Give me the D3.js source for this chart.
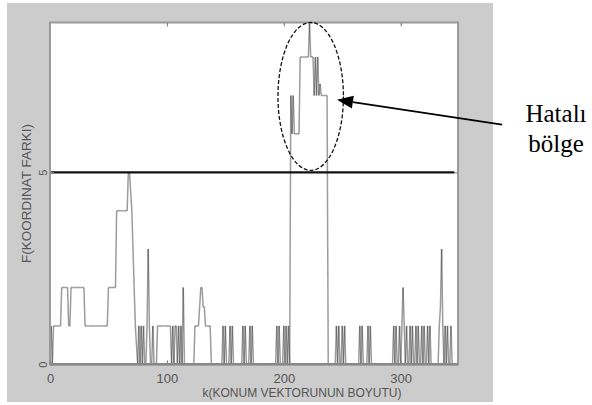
<!DOCTYPE html>
<html>
<head>
<meta charset="utf-8">
<script src="https://cdn.jsdelivr.net/npm/d3@7"></script>
<style>
    html, body { margin: 0; padding: 0; background: #fff; }
    svg { display: block; }
</style>
</head>
<body>
<svg id="chart" width="592" height="405"></svg>
<script>
// F value for every k (0..349), 25 samples per row
const fValues = [
    0, 1, 0, 1, 1, 1, 1, 1, 1, 1, 2, 2, 2, 2, 2, 2, 1, 1, 2, 2, 2, 2, 2, 2, 2,
    2, 2, 2, 2, 2, 1, 1, 1, 1, 1, 1, 1, 1, 1, 1, 1, 1, 1, 1, 1, 1, 1, 1, 1, 1,
    2, 2, 2, 2, 2, 2, 2, 4, 4, 4, 4, 4, 4, 4, 4, 4, 4, 5, 5, 4.5, 4, 3, 2, 1, 0.5,
    0, 1, 0, 1, 0, 1, 0, 0, 1, 3, 1, 0, 0, 1, 0, 0, 0, 1, 1, 1, 1, 1, 1, 1, 1,
    1, 1, 1, 1, 0, 1, 0, 1, 1, 0, 1, 0, 1, 0, 2, 0, 0, 0, 0, 0, 0, 0, 0, 0, 1,
    1, 1, 1, 1.5, 2, 2, 1.5, 1.5, 1, 1, 1, 1, 1, 0, 0, 0, 0, 0, 0, 0, 0, 0, 0, 1, 0,
    1, 0, 0, 0, 1, 0, 1, 0, 0, 0, 0, 0, 0, 0, 0, 1, 0, 1, 0, 0, 0, 1, 0, 1, 0,
    0, 0, 0, 0, 0, 0, 0, 0, 0, 0, 0, 0, 0, 0, 0, 0, 0, 0, 0, 1, 0, 1, 0, 0, 0,
    1, 0, 1, 0, 1, 0, 7, 6, 7, 6, 6, 6, 6, 6, 8, 8, 8, 8, 8, 8, 8, 8, 8.9, 8, 8,
    8, 7, 8, 7, 8, 7, 7.3, 7, 7, 7, 7, 7, 7, 0, 0, 0, 0, 0, 0, 0, 1, 0, 1, 0, 0,
    1, 0, 1, 0, 0, 0, 0, 0, 0, 0, 0, 0, 0, 0, 0, 1, 0, 1, 0, 0, 0, 0, 1, 0, 1,
    0, 0, 0, 0, 0, 0, 0, 0, 0, 0, 0, 0, 0, 0, 0, 0, 0, 0, 0, 1, 0, 1, 0, 0, 1,
    0, 1, 2, 1, 0, 1, 0, 0, 1, 0, 1, 0, 0, 1, 0, 1, 0, 0, 1, 0, 1, 0, 0, 1, 0,
    1, 0, 0, 0, 0, 0, 0, 0, 1, 1.5, 3, 1, 0, 1, 0, 1, 0, 0, 1, 0, 0, 0, 0, 0, 0
];

const xTicks = [0, 100, 200, 300];
const yTicks = [0, 5];
const yMax = 8.9;
const threshold = 5;
const xLabel = 'k(KONUM VEKTORUNUN BOYUTU)';
const yLabel = 'F(KOORDINAT FARKI)';

// annotation: ellipse round the faulty part, arrow and note (data units)
const faultK = [195, 251];
const faultF = [5.05, 8.9];
const arrowFrom = [386.7, 6.24];
const arrowTo = [245.5, 6.89];
const noteLines = ['Hatalı', 'bölge'];

let svg = d3.select('#chart');

let plot = { left: 50, right: 458, top: 22.5, bottom: 364.3 };

let x = d3.scaleLinear().domain([0, fValues.length - 1]).range([plot.left, plot.right]);
let y = d3.scaleLinear().domain([0, yMax]).range([plot.bottom, plot.top]);

// gray figure panel and white axes area
svg.append('rect')
    .attr('x', 7).attr('y', 3)
    .attr('width', 486).attr('height', 399)
    .attr('fill', '#cccccc');

svg.append('rect')
    .attr('x', plot.left).attr('y', plot.top)
    .attr('width', plot.right - plot.left).attr('height', plot.bottom - plot.top)
    .attr('fill', '#ffffff');

// the trace, drawn as separate segments so overlaps get darker like the scan
let points = fValues.map((v, i) => [i, v]);
svg.append('g')
    .attr('id', 'trace-g')
    .selectAll('line')
    .data(d3.pairs(points))
    .join('line')
    .attr('x1', d => x(d[0][0]))
    .attr('y1', d => y(d[0][1]))
    .attr('x2', d => x(d[1][0]))
    .attr('y2', d => y(d[1][1]))
    .attr('stroke', '#3a3a3a')
    .attr('stroke-opacity', 0.5)
    .attr('stroke-width', 1.5);

// threshold line
svg.append('line')
    .attr('x1', x(0)).attr('x2', x(346))
    .attr('y1', y(threshold)).attr('y2', y(threshold))
    .attr('stroke', '#111')
    .attr('stroke-width', 2.2);

// axes box
svg.append('rect')
    .attr('x', plot.left).attr('y', plot.top)
    .attr('width', plot.right - plot.left).attr('height', plot.bottom - plot.top)
    .attr('fill', 'none')
    .attr('stroke', '#9a9a9a')
    .attr('stroke-width', 2);

svg.append('line')
    .attr('x1', plot.left).attr('x2', plot.right)
    .attr('y1', plot.bottom).attr('y2', plot.bottom)
    .attr('stroke', '#888')
    .attr('stroke-width', 2.4);

function styleAxis(g) {
    g.select('.domain').remove();
    g.selectAll('.tick line').attr('stroke', '#8a8a8a').attr('stroke-width', 1.2);
    g.selectAll('.tick text')
        .attr('fill', '#555')
        .style('font-family', '"Liberation Sans", Arial, sans-serif');
}

svg.append('g')
    .attr('transform', `translate(0,${plot.bottom})`)
    .call(d3.axisBottom(x).tickValues(xTicks).tickSizeInner(-4).tickSizeOuter(0).tickPadding(9))
    .call(styleAxis)
    .selectAll('.tick text').style('font-size', '13px');

svg.append('g')
    .attr('transform', `translate(0,${plot.top})`)
    .call(d3.axisTop(x).tickValues(xTicks.slice(1)).tickSizeInner(-4).tickSizeOuter(0).tickFormat(''))
    .call(styleAxis);

let yAxisG = svg.append('g')
    .attr('transform', `translate(${plot.left},0)`)
    .call(d3.axisLeft(y).tickValues(yTicks).tickSizeInner(-4).tickSizeOuter(0))
    .call(styleAxis);

// matlab-ish rotated y tick labels
yAxisG.selectAll('.tick text')
    .attr('x', 0)
    .attr('dy', 0)
    .attr('text-anchor', 'middle')
    .attr('transform', 'translate(-3.5,0) rotate(-90)')
    .style('font-size', '11px');

svg.append('g')
    .attr('transform', `translate(${plot.right},0)`)
    .call(d3.axisRight(y).tickValues(yTicks.slice(1)).tickSizeInner(-4).tickSizeOuter(0).tickFormat(''))
    .call(styleAxis);

// axis labels
svg.append('text')
    .attr('x', (plot.left + plot.right) / 2 + 48)
    .attr('y', 397)
    .attr('text-anchor', 'middle')
    .attr('textLength', 199)
    .attr('lengthAdjust', 'spacingAndGlyphs')
    .attr('fill', '#555')
    .style('font-family', '"Liberation Sans", Arial, sans-serif')
    .style('font-size', '13px')
    .text(xLabel);

svg.append('text')
    .attr('transform', `translate(31,${(plot.top + plot.bottom) / 2}) rotate(-90)`)
    .attr('text-anchor', 'middle')
    .attr('textLength', 139)
    .attr('lengthAdjust', 'spacingAndGlyphs')
    .attr('fill', '#555')
    .style('font-family', '"Liberation Sans", Arial, sans-serif')
    .style('font-size', '12px')
    .text(yLabel);

// dashed ellipse round the faulty region
svg.append('ellipse')
    .attr('cx', (x(faultK[0]) + x(faultK[1])) / 2)
    .attr('cy', (y(faultF[0]) + y(faultF[1])) / 2)
    .attr('rx', (x(faultK[1]) - x(faultK[0])) / 2)
    .attr('ry', (y(faultF[0]) - y(faultF[1])) / 2)
    .attr('fill', 'none')
    .attr('stroke', '#111')
    .attr('stroke-width', 1.3)
    .attr('stroke-dasharray', '4,2');

// arrow pointing to it
let tail = [x(arrowFrom[0]), y(arrowFrom[1])];
let tip = [x(arrowTo[0]), y(arrowTo[1])];
let angle = Math.atan2(tip[1] - tail[1], tip[0] - tail[0]);
let headLen = 16, headHalf = 6.5;
let base = [tip[0] - headLen * Math.cos(angle), tip[1] - headLen * Math.sin(angle)];

svg.append('line')
    .attr('x1', tail[0]).attr('y1', tail[1])
    .attr('x2', base[0]).attr('y2', base[1])
    .attr('stroke', '#000')
    .attr('stroke-width', 1.6);

svg.append('path')
    .attr('d', d3.line()([
        tip,
        [base[0] + headHalf * Math.sin(angle), base[1] - headHalf * Math.cos(angle)],
        [base[0] - headHalf * Math.sin(angle), base[1] + headHalf * Math.cos(angle)]
    ]) + 'Z')
    .attr('fill', '#000');

svg.selectAll('text.note')
    .data(noteLines)
    .join('text')
    .attr('class', 'note')
    .attr('x', 556)
    .attr('y', (d, i) => 122 + i * 30)
    .attr('text-anchor', 'middle')
    .attr('fill', '#000')
    .style('font-family', '"Liberation Serif", "Times New Roman", serif')
    .style('font-size', '25px')
    .text(d => d);
</script>
</body>
</html>
